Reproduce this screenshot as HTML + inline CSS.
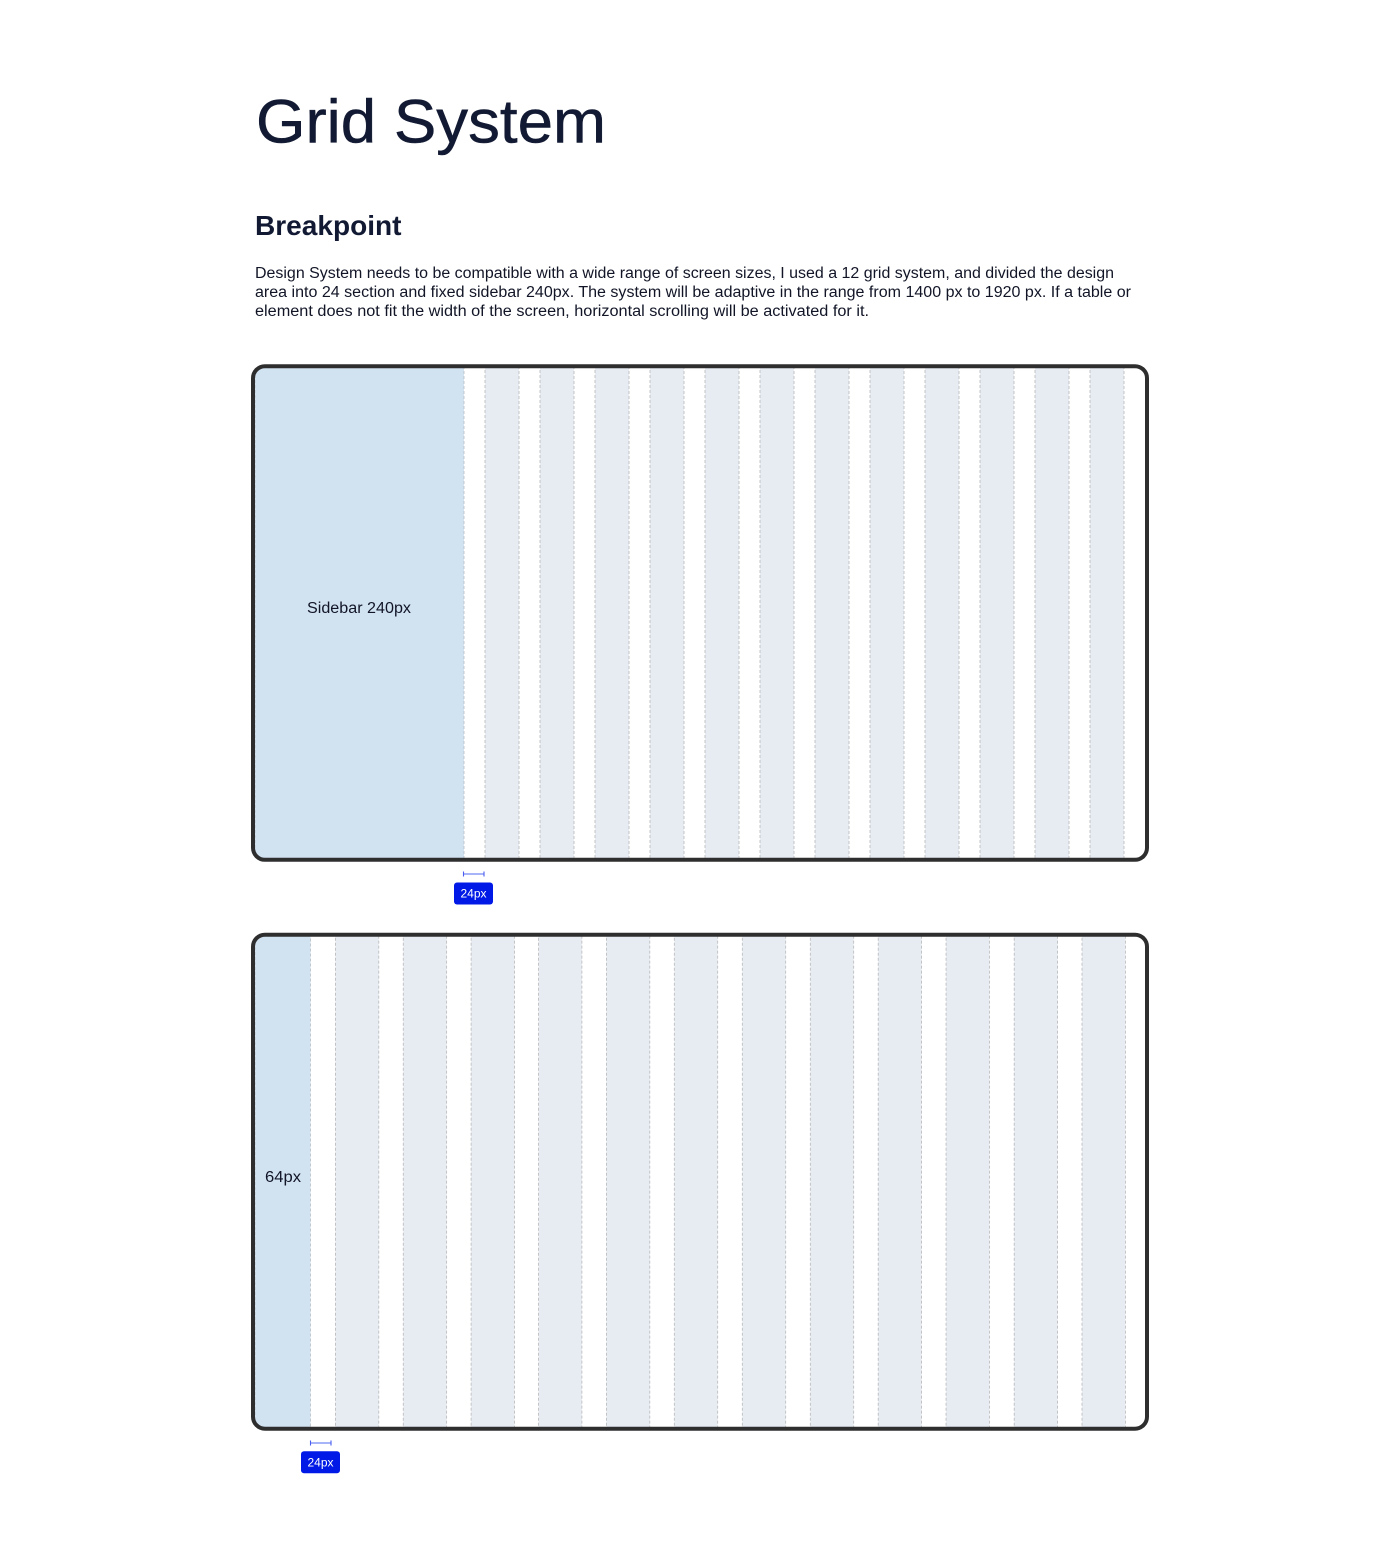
<!DOCTYPE html>
<html>
<head>
<meta charset="utf-8">
<style>
html,body{margin:0;padding:0;background:#fff;width:1400px;height:1564px;overflow:hidden}
svg{display:block}
text{font-family:"Liberation Sans",sans-serif}
.c{fill:#e7ecf3;stroke:#b8b8b8;stroke-width:.8;stroke-dasharray:3 2}
.s{fill:#d1e2f1;stroke:#b8bec4;stroke-width:.8;stroke-dasharray:3 2}
.f{fill:none;stroke:#2e2e2e;stroke-width:4}
.b{font-size:15.5px;fill:#111526}
.l{font-size:15.5px;fill:#111526}
.t{font-size:11.5px;fill:#fff}
.r{stroke:#8c9bf5;stroke-width:1.6;fill:none}
.e{stroke:#4a5df0;stroke-width:1.1;fill:none}
</style>
</head>
<body>
<svg width="1400" height="1564" viewBox="0 0 1400 1564" xmlns="http://www.w3.org/2000/svg">
<defs>
<clipPath id="a"><rect x="254" y="367" width="892" height="492" rx="10"/></clipPath>
<clipPath id="d"><rect x="254" y="936" width="892" height="492" rx="10"/></clipPath>
</defs>
<rect width="1400" height="1564" fill="#fff"/>

<text x="256" y="142.5" font-size="61" fill="#121a33" stroke="#121a33" stroke-width=".5" textLength="350" lengthAdjust="spacingAndGlyphs">Grid System</text>
<text x="255" y="235" font-size="28" font-weight="700" fill="#121a33" textLength="146.5" lengthAdjust="spacingAndGlyphs">Breakpoint</text>

<text class="b" x="255" y="278" textLength="859" lengthAdjust="spacingAndGlyphs">Design System needs to be compatible with a wide range of screen sizes, I used a 12 grid system, and divided the design</text>
<text class="b" x="255" y="297" textLength="876" lengthAdjust="spacingAndGlyphs">area into 24 section and fixed sidebar 240px. The system will be adaptive in the range from 1400 px to 1920 px. If a table or</text>
<text class="b" x="255" y="316" textLength="614" lengthAdjust="spacingAndGlyphs">element does not fit the width of the screen, horizontal scrolling will be activated for it.</text>

<g clip-path="url(#a)">
<rect class="s" x="255" y="360" width="209" height="510"/>
<rect class="c" x="485" y="360" width="34" height="510"/>
<rect class="c" x="540" y="360" width="34" height="510"/>
<rect class="c" x="595" y="360" width="34" height="510"/>
<rect class="c" x="650" y="360" width="34" height="510"/>
<rect class="c" x="705" y="360" width="34" height="510"/>
<rect class="c" x="760" y="360" width="34" height="510"/>
<rect class="c" x="815" y="360" width="34" height="510"/>
<rect class="c" x="870" y="360" width="34" height="510"/>
<rect class="c" x="925" y="360" width="34" height="510"/>
<rect class="c" x="980" y="360" width="34" height="510"/>
<rect class="c" x="1035" y="360" width="34" height="510"/>
<rect class="c" x="1090" y="360" width="34" height="510"/>
</g>
<rect class="f" x="253" y="366.2" width="894" height="493.6" rx="12"/>
<text class="l" x="307" y="613" textLength="104" lengthAdjust="spacingAndGlyphs">Sidebar 240px</text>
<path class="r" d="M463.5 874H484"/>
<path class="e" d="M463.5 871.5V876.5M484 871.5V876.5"/>
<rect x="454" y="882.5" width="39" height="22" rx="3" fill="#0019e6"/>
<text class="t" x="460.5" y="897.5" textLength="26" lengthAdjust="spacingAndGlyphs">24px</text>

<g clip-path="url(#d)">
<rect class="s" x="255" y="929" width="55.5" height="510"/>
<rect class="c" x="335.4" y="929" width="43.4" height="510"/>
<rect class="c" x="403.25" y="929" width="43.4" height="510"/>
<rect class="c" x="471.1" y="929" width="43.4" height="510"/>
<rect class="c" x="538.5" y="929" width="43.4" height="510"/>
<rect class="c" x="606.4" y="929" width="43.4" height="510"/>
<rect class="c" x="674.3" y="929" width="43.4" height="510"/>
<rect class="c" x="742.3" y="929" width="43.4" height="510"/>
<rect class="c" x="810.3" y="929" width="43.4" height="510"/>
<rect class="c" x="878.2" y="929" width="43.4" height="510"/>
<rect class="c" x="946.05" y="929" width="43.4" height="510"/>
<rect class="c" x="1014.2" y="929" width="43.4" height="510"/>
<rect class="c" x="1082" y="929" width="43.4" height="510"/>
</g>
<rect class="f" x="253" y="934.7" width="894" height="494" rx="12"/>
<text class="l" x="265" y="1182" textLength="36" lengthAdjust="spacingAndGlyphs">64px</text>
<path class="r" d="M310.5 1443H331"/>
<path class="e" d="M310.5 1440.5V1445.5M331 1440.5V1445.5"/>
<rect x="301" y="1451.3" width="39" height="22" rx="3" fill="#0019e6"/>
<text class="t" x="307.5" y="1466.3" textLength="26" lengthAdjust="spacingAndGlyphs">24px</text>
</svg>
</body>
</html>
